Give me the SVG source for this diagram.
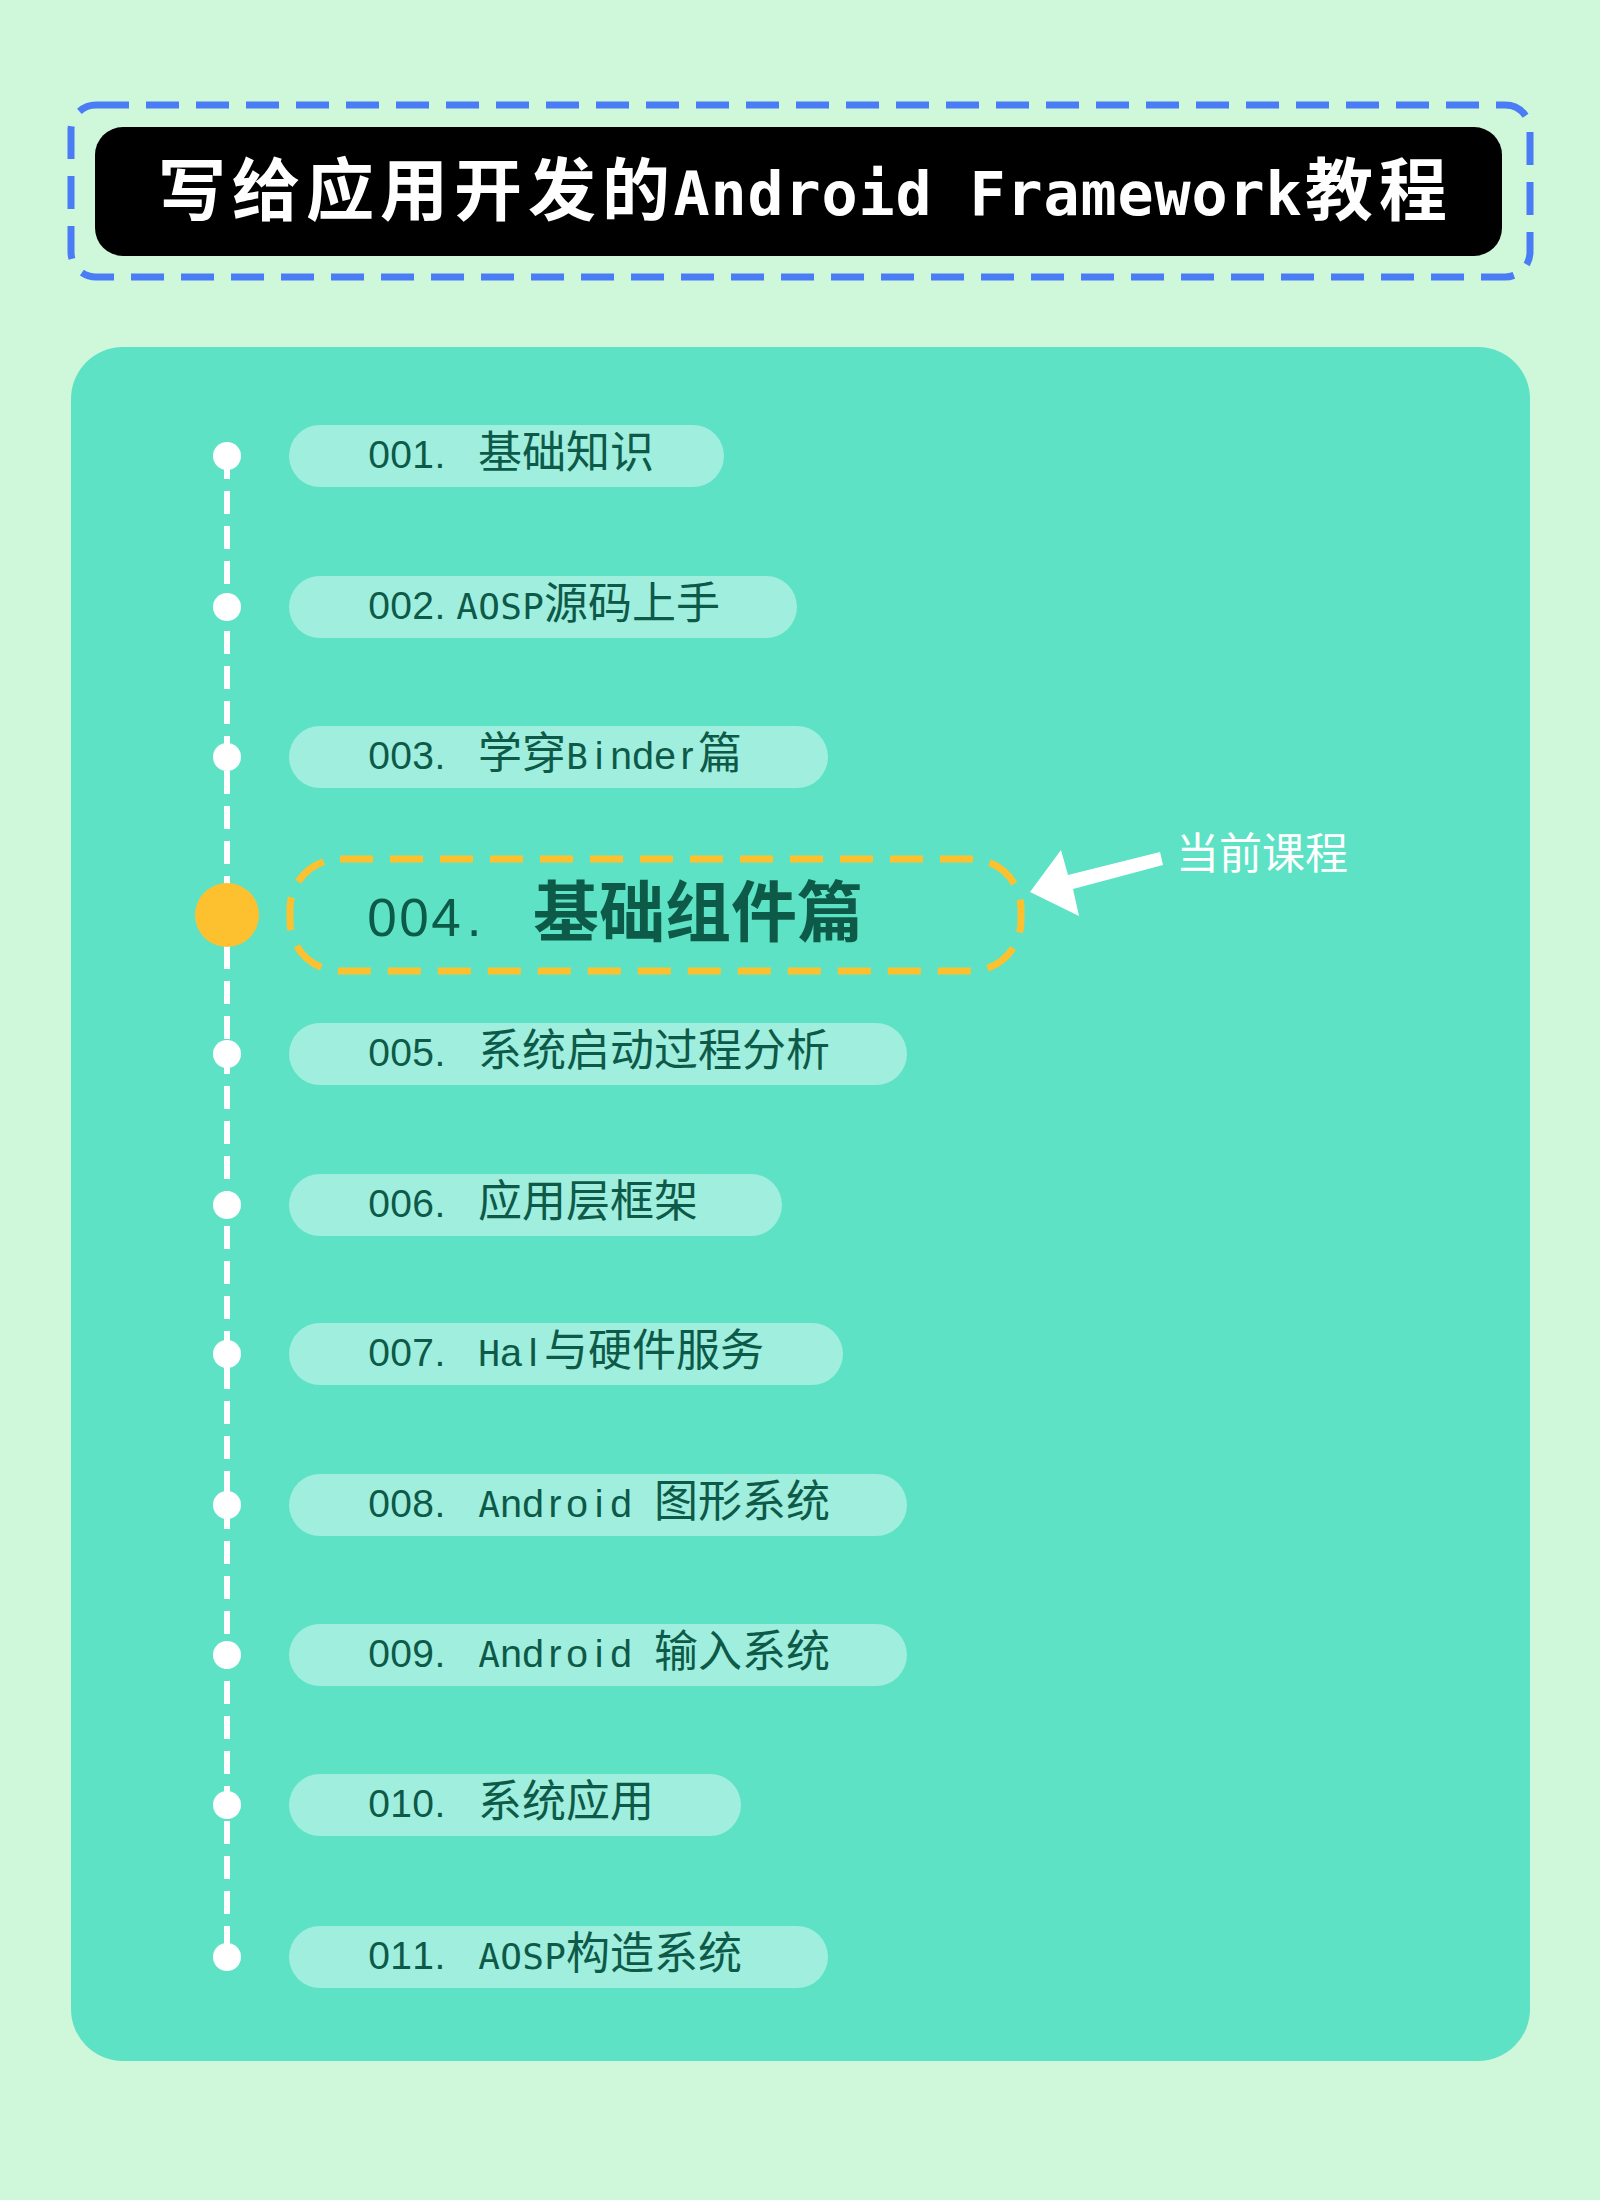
<svg xmlns="http://www.w3.org/2000/svg" width="1600" height="2200" viewBox="0 0 1600 2200">
<style>
.pill{fill:#A0EEDE}
.dot{fill:#FFFFFF}
.it{fill:#0E5A48;text-anchor:middle}
.lt{font-family:"Liberation Sans",Arial,sans-serif;font-size:39px}
.mc{font-family:"DejaVu Sans Mono",monospace;font-size:36px}
.cj{font-family:"Noto Sans CJK SC",sans-serif;font-size:44px}
.lt4{font-family:"Liberation Sans",Arial,sans-serif;font-size:53px}
.cj4{font-family:"Noto Sans CJK SC",sans-serif;font-size:66px;font-weight:700}
.title{fill:#FFFFFF;text-anchor:middle;font-weight:700}
.tm{font-family:"DejaVu Sans Mono",monospace;font-size:60px}
.tc{font-family:"Noto Sans CJK SC",sans-serif;font-size:68px}
</style>
<rect x="0" y="0" width="1600" height="2200" fill="#CFF7DA"/>
<g id="node-title">
<rect x="71" y="105" width="1459" height="172" rx="25" fill="none" stroke="#4A7CF6" stroke-width="7" stroke-dasharray="33 17"/>
<rect x="95" y="127" width="1407" height="129" rx="28" fill="#000000"/>
<text class="title" y="215"><tspan class="tc" x="192 266 340 414 488 562 636">写给应用开发的</tspan><tspan class="tm" x="691.5 728.5 765.5 802.5 839.5 876.5 913.5 950.5 987.5 1024.5 1061.5 1098.5 1135.5 1172.5 1209.5 1246.5 1283.5">Android Framework</tspan><tspan class="tc" x="1339 1413">教程</tspan></text>
</g>
<g id="panel">
<rect x="71" y="347" width="1459" height="1714" rx="52" fill="#5DE2C5"/>
</g>
<g id="connectors">
<line x1="227" y1="456" x2="227" y2="1957" stroke="#FFFFFF" stroke-width="6" stroke-dasharray="23 12"/>
<polygon points="1030,892 1061,850 1068,875 1160,852 1163,865 1073,889 1079,916" fill="#FFFFFF"/>
</g>
<g id="node-001">
<circle class="dot" cx="227" cy="456" r="14"/>
<rect class="pill" x="289" y="425" width="435" height="62" rx="31"/>
<text class="it" y="468"><tspan class="lt" x="379 401 423 440 467">001. </tspan><tspan class="cj" x="566">基础知识</tspan></text>
</g>
<g id="node-002">
<circle class="dot" cx="227" cy="607" r="14"/>
<rect class="pill" x="289" y="576" width="508" height="62" rx="31"/>
<text class="it" y="619"><tspan class="lt" x="379 401 423 440">002.</tspan><tspan class="mc" x="467 489 511 533">AOSP</tspan><tspan class="cj" x="632">源码上手</tspan></text>
</g>
<g id="node-003">
<circle class="dot" cx="227" cy="757" r="14"/>
<rect class="pill" x="289" y="726" width="539" height="62" rx="31"/>
<text class="it" y="769"><tspan class="lt" x="379 401 423 440 467">003. </tspan><tspan class="cj" x="522">学穿</tspan><tspan class="mc" x="577">B</tspan><tspan class="lt" x="599 621 643 665 687">inder</tspan><tspan class="cj" x="720">篇</tspan></text>
</g>
<g id="node-004">
<circle cx="227" cy="915" r="32" fill="#FDC12F"/>
<rect x="290" y="859" width="731" height="112" rx="50" fill="none" stroke="#FDC12F" stroke-width="7" stroke-dasharray="33 17"/>
<text class="it" y="936"><tspan class="lt4" x="382 414 446 474 508">004. </tspan><tspan class="cj4" x="698">基础组件篇</tspan></text>
</g>
<g id="node-current">
<text x="1176" y="869" fill="#FFFFFF" font-family="Noto Sans CJK SC, sans-serif" font-size="43">当前课程</text>
</g>
<g id="node-005">
<circle class="dot" cx="227" cy="1054" r="14"/>
<rect class="pill" x="289" y="1023" width="618" height="62" rx="31"/>
<text class="it" y="1066"><tspan class="lt" x="379 401 423 440 467">005. </tspan><tspan class="cj" x="654">系统启动过程分析</tspan></text>
</g>
<g id="node-006">
<circle class="dot" cx="227" cy="1205" r="14"/>
<rect class="pill" x="289" y="1174" width="493" height="62" rx="31"/>
<text class="it" y="1217"><tspan class="lt" x="379 401 423 440 467">006. </tspan><tspan class="cj" x="588">应用层框架</tspan></text>
</g>
<g id="node-007">
<circle class="dot" cx="227" cy="1354" r="14"/>
<rect class="pill" x="289" y="1323" width="554" height="62" rx="31"/>
<text class="it" y="1366"><tspan class="lt" x="379 401 423 440 467">007. </tspan><tspan class="mc" x="489">H</tspan><tspan class="lt" x="511 533">al</tspan><tspan class="cj" x="654">与硬件服务</tspan></text>
</g>
<g id="node-008">
<circle class="dot" cx="227" cy="1505" r="14"/>
<rect class="pill" x="289" y="1474" width="618" height="62" rx="31"/>
<text class="it" y="1517"><tspan class="lt" x="379 401 423 440 467">008. </tspan><tspan class="mc" x="489">A</tspan><tspan class="lt" x="511 533 555 577 599 621 643">ndroid </tspan><tspan class="cj" x="742">图形系统</tspan></text>
</g>
<g id="node-009">
<circle class="dot" cx="227" cy="1655" r="14"/>
<rect class="pill" x="289" y="1624" width="618" height="62" rx="31"/>
<text class="it" y="1667"><tspan class="lt" x="379 401 423 440 467">009. </tspan><tspan class="mc" x="489">A</tspan><tspan class="lt" x="511 533 555 577 599 621 643">ndroid </tspan><tspan class="cj" x="742">输入系统</tspan></text>
</g>
<g id="node-010">
<circle class="dot" cx="227" cy="1805" r="14"/>
<rect class="pill" x="289" y="1774" width="452" height="62" rx="31"/>
<text class="it" y="1817"><tspan class="lt" x="379 401 423 440 467">010. </tspan><tspan class="cj" x="566">系统应用</tspan></text>
</g>
<g id="node-011">
<circle class="dot" cx="227" cy="1957" r="14"/>
<rect class="pill" x="289" y="1926" width="539" height="62" rx="31"/>
<text class="it" y="1969"><tspan class="lt" x="379 401 423 440 467">011. </tspan><tspan class="mc" x="489 511 533 555">AOSP</tspan><tspan class="cj" x="654">构造系统</tspan></text>
</g>
</svg>
